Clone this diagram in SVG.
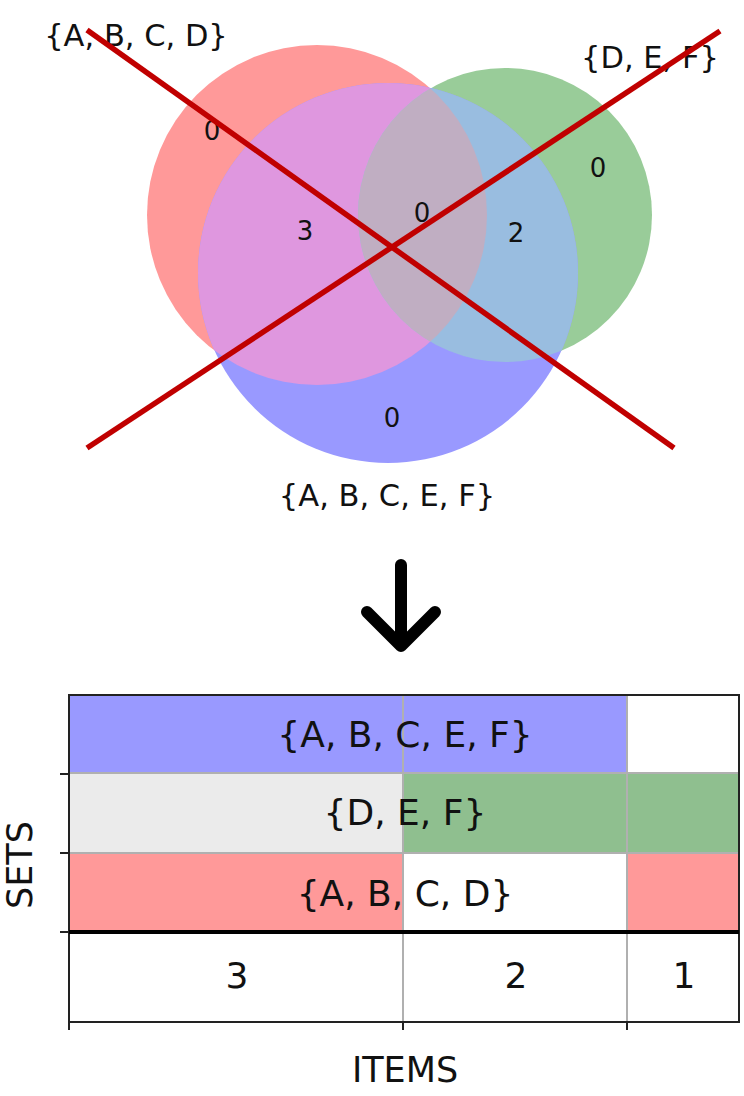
<svg xmlns="http://www.w3.org/2000/svg" width="744" height="1096" viewBox="0 0 744 1096">
<style>
text{font-family:"DejaVu Sans","Liberation Sans",sans-serif;fill:#111;text-anchor:middle}
.vl{font-size:30.5px}
.vn{font-size:26px}
.cl{font-size:36px}
.ax{font-size:35px}
.grid{stroke:#b0b0b0;stroke-width:2;fill:none}
.frame{stroke:#222;stroke-width:2;fill:none}
.cross{stroke:#c00000;stroke-width:5.5;stroke-linecap:butt}
</style>
<defs>
<clipPath id="cR"><circle cx="317" cy="215" r="170"/></clipPath>
<clipPath id="cG"><circle cx="505" cy="215" r="147"/></clipPath>
<clipPath id="cB"><circle cx="388" cy="273" r="190"/></clipPath>
</defs>
<g id="venn">
<circle cx="317" cy="215" r="170" fill="#ff9999"/>
<circle cx="505" cy="215" r="147" fill="#99cc99"/>
<circle cx="388" cy="273" r="190" fill="#9999ff"/>
<g clip-path="url(#cR)"><circle cx="505" cy="215" r="147" fill="#c8b39a"/></g>
<g clip-path="url(#cR)"><circle cx="388" cy="273" r="190" fill="#df97df"/></g>
<g clip-path="url(#cG)"><circle cx="388" cy="273" r="190" fill="#99bde0"/></g>
<g clip-path="url(#cR)"><g clip-path="url(#cG)"><circle cx="388" cy="273" r="190" fill="#c0aec2"/></g></g>
</g>
<g id="venn-labels">
<text class="vl" x="136" y="46">{A, B, C, D}</text>
<text class="vl" x="650" y="68">{D, E, F}</text>
<text class="vl" x="387" y="506">{A, B, C, E, F}</text>
<text class="vn" x="212" y="140">0</text>
<text class="vn" x="305" y="240">3</text>
<text class="vn" x="422" y="222">0</text>
<text class="vn" x="516" y="242">2</text>
<text class="vn" x="598" y="177">0</text>
<text class="vn" x="392" y="427">0</text>
</g>
<g id="cross">
<line class="cross" x1="87" y1="30" x2="674" y2="448"/>
<line class="cross" x1="87" y1="448" x2="720" y2="31"/>
</g>
<g id="connectors">
<path d="M401 565 V646 M367 612 L401 646 L435 612" fill="none" stroke="#000" stroke-width="12" stroke-linecap="round" stroke-linejoin="round"/>
</g>
<g id="chart">
<rect x="69" y="695" width="558" height="78" fill="#9999ff"/>
<rect x="627" y="695" width="112" height="78" fill="#fff"/>
<rect x="69" y="773" width="334" height="80" fill="#ebebeb"/>
<rect x="403" y="773" width="336" height="80" fill="#8fbf8f"/>
<rect x="69" y="853" width="334" height="79" fill="#ff9999"/>
<rect x="403" y="853" width="224" height="79" fill="#fff"/>
<rect x="627" y="853" width="112" height="79" fill="#ff9999"/>
<line class="grid" x1="69" y1="773" x2="739" y2="773"/>
<line class="grid" x1="69" y1="853" x2="739" y2="853"/>
<line class="grid" x1="403" y1="695" x2="403" y2="1022"/>
<line class="grid" x1="627" y1="695" x2="627" y2="1022"/>
<rect class="frame" x="69" y="695" width="670" height="327"/>
<line x1="69" y1="932" x2="739" y2="932" stroke="#000" stroke-width="4"/>
<path class="frame" d="M60 774 H69 M60 853 H69 M60 932 H69 M69 1022 V1030 M403 1022 V1030 M627 1022 V1030"/>
<text class="cl" x="405" y="747">{A, B, C, E, F}</text>
<text class="cl" x="405" y="825">{D, E, F}</text>
<text class="cl" x="405" y="906">{A, B, C, D}</text>
<text class="cl" x="237" y="988">3</text>
<text class="cl" x="516" y="988">2</text>
<text class="cl" x="684" y="988">1</text>
<text class="ax" x="405" y="1082">ITEMS</text>
<text class="ax" transform="translate(32 865) rotate(-90)">SETS</text>
</g>
</svg>
